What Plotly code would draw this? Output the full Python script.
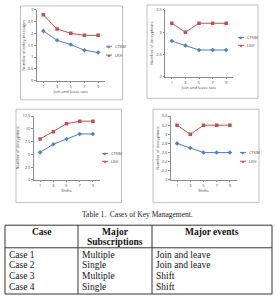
import plotly.graph_objects as go

W, H = 276, 297

# ---- data ----
x_cats = ["1", "3", "5", "7", "9"]
c1_blue = [2.10, 1.71, 1.53, 1.29, 1.19]
c1_red = [2.79, 2.19, 2.01, 1.92, 1.92]
c2_blue = [2.8, 2.7, 2.6, 2.6, 2.6]
c2_red = [3.2, 3.0, 3.2, 3.2, 3.2]
c3_blue = [5.4, 7.0, 8.0, 9.0, 9.0]
c3_red = [8.0, 9.45, 11.0, 11.5, 11.5]
c4_blue = [2.8, 2.7, 2.6, 2.6, 2.6]
c4_red = [3.2, 3.0, 3.2, 3.2, 3.2]
series_names = ["CTKM", "LKH"]
y_titles = ["Number of rekey messages", "Number of decryptions",
            "Number of decryptions", "Number of decryptions"]
x_titles = ["Join and leave rate", "Join and leave rate", "Shifts", "Shifts"]
y_ranges = [(0, 3, 0.5), (2, 3.5, 0.5), (0, 12.5, 2.5), (2, 3.4, 0.2)]

table_caption = "Table 1.  Cases of Key Management."
table_header = [["Case"], ["Major", "Subscriptions"], ["Major events"]]
col_case = ["Case 1", "Case 2", "Case 3", "Case 4"]
col_subs = ["Multiple", "Single", "Multiple", "Single"]
col_events = ["Join and leave", "Join and leave", "Shift", "Shift"]

BLUE = "#4F81BD"
RED = "#C0504D"

def px(x):
    return x / W

def py(y):
    return 1 - y / H

charts = [
    dict(box=(20.5, 3, 122.5, 98.5), plot=(36.5, 105, 7, 79), leg=(106, 44, 53)),
    dict(box=(147, 2, 258, 97), plot=(165, 233, 7, 75), leg=(238, 35, 43)),
    dict(box=(16, 108, 121.5, 203), plot=(33.5, 99.5, 115, 180), leg=(102, 153, 161)),
    dict(box=(153, 108, 259, 203), plot=(170.5, 236.5, 115, 180), leg=(240, 152, 161)),
]
data_sets = [(c1_blue, c1_red), (c2_blue, c2_red), (c3_blue, c3_red), (c4_blue, c4_red)]

fig = go.Figure()
shapes = []
annotations = []
layout_axes = {}

for i, (ch, (blue, red)) in enumerate(zip(charts, data_sets)):
    n = i + 1
    xa = "x" if n == 1 else f"x{n}"
    ya = "y" if n == 1 else f"y{n}"
    x0, x1, yt, yb = ch["plot"]
    lo, hi, step = y_ranges[i]
    ticks = []
    v = lo
    while v <= hi + 1e-9:
        ticks.append(round(v, 3))
        v += step
    fig.add_trace(go.Scatter(x=list(range(len(x_cats))), y=blue, mode="lines+markers",
                             line=dict(color=BLUE, width=1),
                             marker=dict(symbol="diamond", size=3.5, color=BLUE),
                             xaxis=xa, yaxis=ya, showlegend=False, name=series_names[0]))
    fig.add_trace(go.Scatter(x=list(range(len(x_cats))), y=red, mode="lines+markers",
                             line=dict(color=RED, width=1),
                             marker=dict(symbol="square", size=3.5, color=RED),
                             xaxis=xa, yaxis=ya, showlegend=False, name=series_names[1]))
    xkey = "xaxis" if n == 1 else f"xaxis{n}"
    ykey = "yaxis" if n == 1 else f"yaxis{n}"
    layout_axes[xkey] = dict(domain=[px(x0), px(x1)], anchor=ya, range=[-0.5, 4.5],
                             tickvals=list(range(len(x_cats))), ticktext=x_cats,
                             showgrid=False, zeroline=False, showline=True,
                             linecolor="#8c8c8c", linewidth=0.8, ticks="outside",
                             ticklen=1.5, tickcolor="#8c8c8c",
                             tickfont=dict(size=4, color="#444"),
                             title=dict(text=x_titles[i], font=dict(size=4, color="#444"),
                                        standoff=2))
    layout_axes[ykey] = dict(domain=[py(yb), py(yt)], anchor=xa, range=[lo, hi],
                             tickvals=ticks, ticktext=[f"{t:g}" for t in ticks],
                             showgrid=False, zeroline=False, showline=True,
                             linecolor="#8c8c8c", linewidth=0.8, ticks="outside",
                             ticklen=1.5, tickcolor="#8c8c8c",
                             tickfont=dict(size=4, color="#444"),
                             title=dict(text=y_titles[i], font=dict(size=4, color="#444"),
                                        standoff=2))
    bx0, by0, bx1, by1 = ch["box"]
    shapes.append(dict(type="rect", xref="paper", yref="paper",
                       x0=px(bx0), x1=px(bx1), y0=py(by1), y1=py(by0),
                       line=dict(color="#b0b0b0", width=0.8)))
    lx, ly1, ly2 = ch["leg"]
    for name, col, sym, ly in [(series_names[0], BLUE, "diamond", ly1),
                               (series_names[1], RED, "square", ly2)]:
        shapes.append(dict(type="line", xref="paper", yref="paper",
                           x0=px(lx), x1=px(lx + 6), y0=py(ly), y1=py(ly),
                           line=dict(color=col, width=1)))
        annotations.append(dict(xref="paper", yref="paper", x=px(lx + 3), y=py(ly),
                                text="■" if sym == "square" else "◆", showarrow=False,
                                font=dict(size=4, color=col), xanchor="center",
                                yanchor="middle"))
        annotations.append(dict(xref="paper", yref="paper", x=px(lx + 7), y=py(ly),
                                text=name, showarrow=False, xanchor="left",
                                yanchor="middle", font=dict(size=4, color="#444")))

# ---- table ----
SERIF = "Liberation Serif, Times New Roman, serif"
annotations.append(dict(xref="paper", yref="paper", x=px(137), y=py(215),
                        text=table_caption, showarrow=False, xanchor="center",
                        yanchor="middle", font=dict(size=7.5, family=SERIF, color="#222")))
tx0, tx1, ty0, ty1 = 5, 272, 226, 296
col_bounds = [tx0, 78, 152, tx1]
header_bottom = 249
shapes.append(dict(type="rect", xref="paper", yref="paper",
                   x0=px(tx0), x1=px(tx1), y0=py(ty1), y1=py(ty0),
                   line=dict(color="#333", width=1)))
shapes.append(dict(type="line", xref="paper", yref="paper",
                   x0=px(tx0), x1=px(tx1), y0=py(header_bottom), y1=py(header_bottom),
                   line=dict(color="#333", width=1)))
for cb in col_bounds[1:-1]:
    shapes.append(dict(type="line", xref="paper", yref="paper",
                       x0=px(cb), x1=px(cb), y0=py(ty1), y1=py(ty0),
                       line=dict(color="#333", width=1)))
header_line_ys = [232.5, 243.5]
for j, hlines in enumerate(table_header):
    cx = (col_bounds[j] + col_bounds[j + 1]) / 2
    for k, htxt in enumerate(hlines):
        annotations.append(dict(xref="paper", yref="paper", x=px(cx), y=py(header_line_ys[k]),
                                text="<b>" + htxt + "</b>", showarrow=False,
                                xanchor="center", yanchor="middle", align="center",
                                font=dict(size=9.5, family=SERIF, color="#111")))
row_ys = [256, 266.5, 278, 289]
for r, yy in enumerate(row_ys):
    for j, col in enumerate([col_case, col_subs, col_events]):
        annotations.append(dict(xref="paper", yref="paper", x=px(col_bounds[j] + 2),
                                y=py(yy), text=col[r], showarrow=False,
                                xanchor="left", yanchor="middle",
                                font=dict(size=9.5, family=SERIF, color="#111")))

fig.update_layout(width=W, height=H, margin=dict(l=0, r=0, t=0, b=0),
                  paper_bgcolor="white", plot_bgcolor="white",
                  shapes=shapes, annotations=annotations, **layout_axes)
fig.write_html("out.html")
